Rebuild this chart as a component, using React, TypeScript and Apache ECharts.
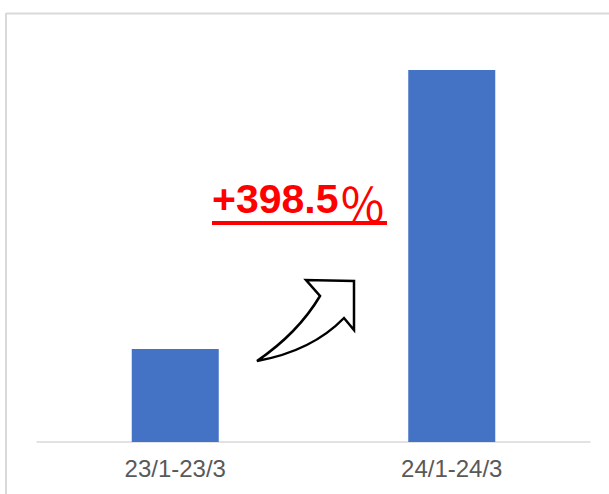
import React, { useEffect, useRef } from "react";
import * as echarts from "echarts";

const categories: string[] = ["23/1-23/3", "24/1-24/3"];
const values: number[] = [93, 372];
const growthLabel = "+398.5";
const percentSign = "％";

const ARROW_D =
  "M257 361 Q298 333 320 296 L306 280 L354 281 L354 330 L344 318 Q312 351 257 361 Z";

let registered = false;
function registerArrow() {
  if (registered) return;
  registered = true;
  echarts.graphic.registerShape("curvedArrow", echarts.graphic.extendPath(ARROW_D, {}) as any);
}

export default function App() {
  const ref = useRef<HTMLDivElement>(null);
  useEffect(() => {
    if (!ref.current) return;
    registerArrow();
    const chart = echarts.init(ref.current, undefined, { renderer: "svg" });
    chart.setOption({
      animation: false,
      backgroundColor: "#ffffff",
      grid: { left: 37, right: 19, top: 42, bottom: 52 },
      xAxis: {
        type: "category",
        data: categories,
        axisLine: { show: true, lineStyle: { color: "#d9d9d9", width: 1.5 } },
        axisTick: { show: false },
        axisLabel: {
          color: "#595959",
          fontSize: 24,
          fontFamily: "Liberation Sans, Arial, sans-serif",
          margin: 14,
        },
      },
      yAxis: {
        type: "value",
        min: 0,
        max: 400,
        show: false,
        splitLine: { show: false },
      },
      series: [
        {
          type: "bar",
          data: values,
          barWidth: 87,
          itemStyle: { color: "#4472C4" },
        },
      ],
      graphic: [
        {
          type: "line",
          shape: { x1: 6, y1: 13.5, x2: 609, y2: 13.5 },
          style: { stroke: "#d9d9d9", lineWidth: 2 },
          silent: true,
        },
        {
          type: "line",
          shape: { x1: 6, y1: 13, x2: 6, y2: 494 },
          style: { stroke: "#d9d9d9", lineWidth: 2 },
          silent: true,
        },
        {
          type: "text",
          x: 212,
          y: 199,
          style: {
            text: growthLabel,
            fill: "#FF0000",
            fontSize: 41,
            fontWeight: "bold",
            fontFamily: "Liberation Sans, Arial, sans-serif",
            verticalAlign: "middle",
            align: "left",
          },
        },
        {
          type: "text",
          x: 339,
          y: 201,
          style: {
            text: percentSign,
            fill: "#FF0000",
            fontSize: 47,
            fontWeight: "normal",
            fontFamily: "Noto Sans CJK JP, sans-serif",
            verticalAlign: "middle",
            align: "left",
          },
        },
        {
          type: "rect",
          shape: { x: 212, y: 221, width: 175, height: 4 },
          style: { fill: "#FF0000" },
        },
        {
          type: "curvedArrow",
          x: 0,
          y: 0,
          scaleX: 1,
          scaleY: 1,
          style: { fill: "#ffffff", stroke: "#000000", lineWidth: 2.5, lineJoin: "miter" },
          z: 10,
        },
      ],
    });
    return () => chart.dispose();
  }, []);
  return (
    <div
      ref={ref}
      style={{ position: "fixed", left: 0, top: 0, width: 609, height: 494 }}
    />
  );
}
